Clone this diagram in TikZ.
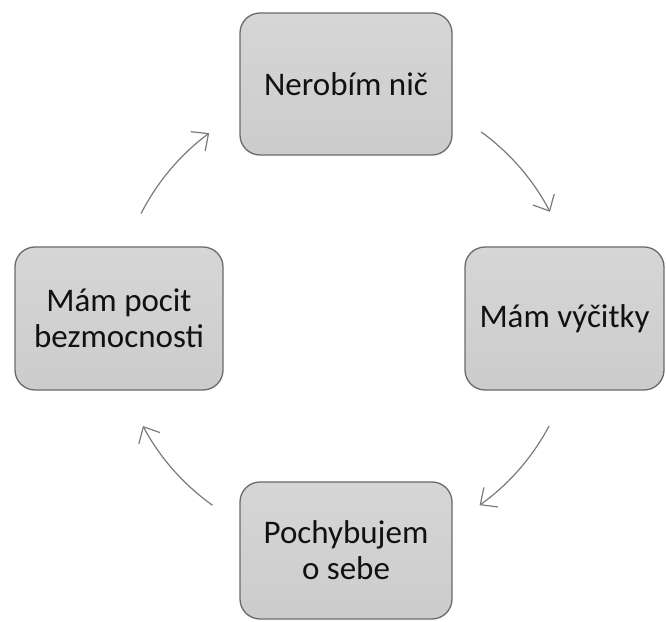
\documentclass[tikz,border=0pt]{standalone}
\usepackage{fontspec}
\setmainfont{Carlito}
\usetikzlibrary{arrows.meta}
\definecolor{boxfill}{HTML}{CCCCCC}
\definecolor{boxtop}{HTML}{D6D6D6}
\definecolor{boxline}{HTML}{6A6A6A}
\definecolor{arrowgray}{HTML}{7A7A7A}
\definecolor{txt}{HTML}{111111}
\begin{document}
\begin{tikzpicture}[x=1pt,y=1pt,
  cbox/.style={draw=boxline, line width=1.3pt, rounded corners=20pt,
    top color=boxtop, bottom color=boxfill, inner sep=0pt, align=center,
    text=txt, font=\fontsize{33}{36}\selectfont},
  cyc/.style={draw=arrowgray, line width=1.2pt,
    -{Straight Barb[length=13pt,width=24pt,line width=1.2pt]}}]
\useasboundingbox (0,0) rectangle (666,621);
\node[cbox, minimum width=212pt, minimum height=142pt] (top) at (346,537) {Nerobím nič};
\node[cbox, minimum width=199pt, minimum height=143pt] (right) at (564.5,302.5) {Mám výčitky};
\node[cbox, minimum width=208pt, minimum height=143pt] (left) at (119,302.5) {Mám pocit\\bezmocnosti};
\node[cbox, minimum width=212pt, minimum height=137pt] (bottom) at (346,70.5) {Pochybujem\\o sebe};
\coordinate (c) at (346,303);
\draw[cyc] ([shift={(54:230pt)}]c) arc[start angle=54, end angle=27.5, radius=230pt];
\draw[cyc] ([shift={(-28:230pt)}]c) arc[start angle=-28, end angle=-54.5, radius=230pt];
\draw[cyc] ([shift={(234.5:230pt)}]c) arc[start angle=234.5, end angle=208, radius=230pt];
\draw[cyc] ([shift={(153:230pt)}]c) arc[start angle=153, end angle=126.5, radius=230pt];
\end{tikzpicture}
\end{document}
